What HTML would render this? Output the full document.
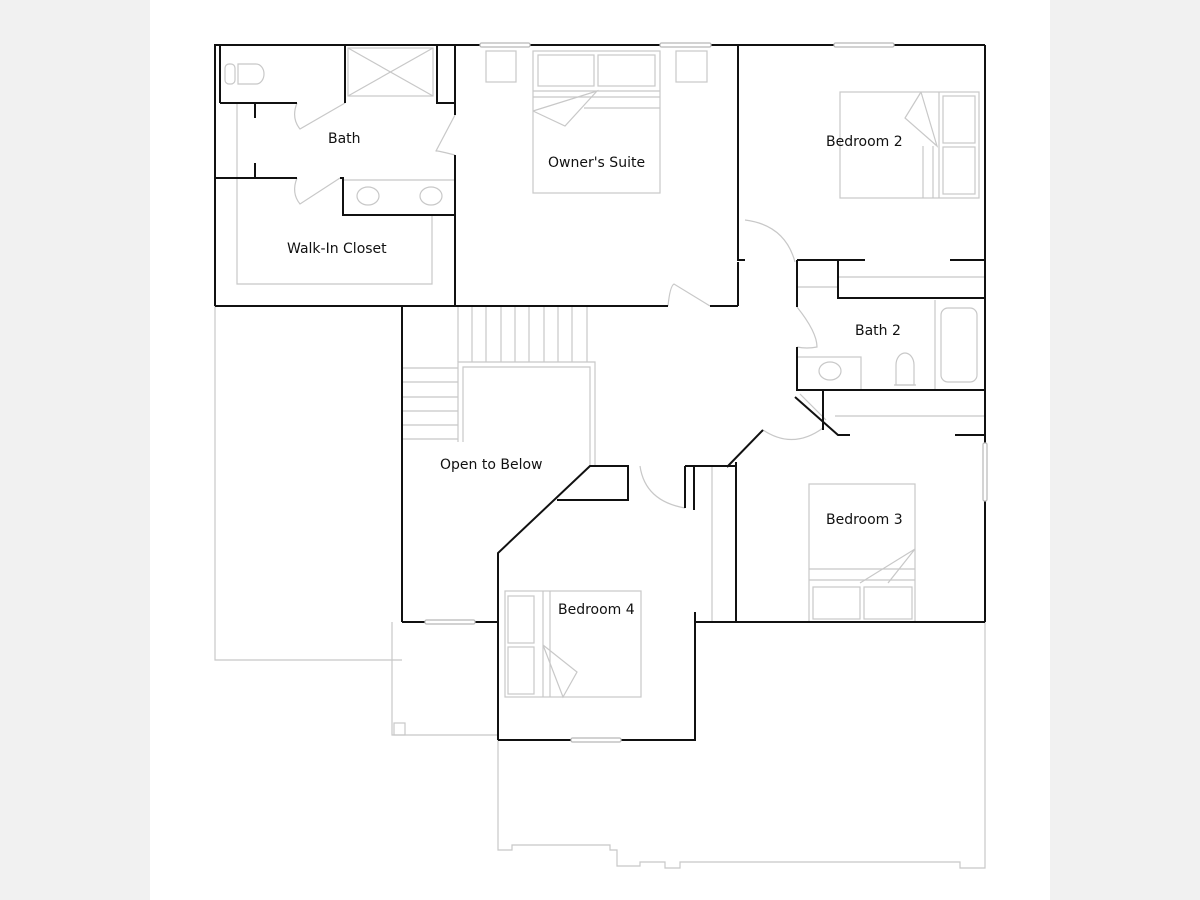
<!DOCTYPE html>
<html><head><meta charset="utf-8"><style>
html,body{margin:0;padding:0;background:#f1f1f1;}
svg{display:block;}
text{font-family:"DejaVu Sans","Liberation Sans",sans-serif;font-size:14px;fill:#111;}
</style></head><body>
<svg width="1200" height="900" viewBox="0 0 1200 900" xmlns="http://www.w3.org/2000/svg">
<rect x="0" y="0" width="1200" height="900" fill="#f1f1f1"/>
<rect x="150" y="0" width="900" height="900" fill="#fff"/>

<g fill="none" stroke="#c8c8c8" stroke-width="1.2">
  <polyline points="215,306 215,660 402,660"/>
  <polyline points="392,622 392,735 498,735"/>
  <rect x="394" y="723" width="11" height="12"/>
  <polyline points="498,740 498,850 512,850 512,845 610,845 610,850 617,850 617,866 640,866 640,862 665,862 665,868 680,868 680,862 960,862 960,868 985,868 985,622"/>
  <polyline points="237,103 237,284 432,284 432,215"/>
  <rect x="348" y="48" width="85" height="48"/>
  <line x1="348" y1="48" x2="433" y2="96"/><line x1="433" y1="48" x2="348" y2="96"/>
  <rect x="225" y="64" width="10" height="20" rx="4"/>
  <path d="M238 64 h18 a8 10 0 0 1 0 20 h-18 z"/>
  <line x1="343" y1="180" x2="455" y2="180"/>
  <ellipse cx="368" cy="196" rx="11" ry="9"/><ellipse cx="431" cy="196" rx="11" ry="9"/>
  <rect x="486" y="51" width="30" height="31"/><rect x="676" y="51" width="31" height="31"/>
  <rect x="533" y="51" width="127" height="142"/>
  <rect x="538" y="55" width="56" height="31"/><rect x="598" y="55" width="57" height="31"/>
  <line x1="533" y1="91" x2="660" y2="91"/><line x1="533" y1="97" x2="660" y2="97"/><line x1="584" y1="108" x2="660" y2="108"/>
  <polyline points="533,111 597,91 565,126 533,111"/>
  <rect x="840" y="92" width="139" height="106"/>
  <rect x="943" y="96" width="32" height="47"/><rect x="943" y="147" width="32" height="47"/>
  <line x1="923" y1="146" x2="923" y2="198"/><line x1="933" y1="146" x2="933" y2="198"/><line x1="939" y1="92" x2="939" y2="198"/>
  <polyline points="921,92 905,118 937,146 921,92"/>
  <line x1="838" y1="277" x2="985" y2="277"/>
  <line x1="797" y1="287" x2="838" y2="287"/>
  <line x1="935" y1="300" x2="935" y2="390"/>
  <rect x="941" y="308" width="36" height="74" rx="7"/>
  <rect x="797" y="357" width="64" height="33"/>
  <ellipse cx="830" cy="371" rx="11" ry="9"/>
  <path d="M896 385 v-20 a9 12 0 0 1 18 0 v20 z"/><line x1="894" y1="385" x2="916" y2="385"/>
  <line x1="835" y1="416" x2="985" y2="416"/>
  <rect x="809" y="484" width="106" height="138"/>
  <rect x="813" y="587" width="47" height="32"/><rect x="864" y="587" width="48" height="32"/>
  <line x1="809" y1="569" x2="915" y2="569"/><line x1="809" y1="580" x2="915" y2="580"/>
  <polyline points="860,583 915,549 888,583"/>
  <rect x="505" y="591" width="136" height="106"/>
  <rect x="508" y="596" width="26" height="47"/><rect x="508" y="647" width="26" height="47"/>
  <line x1="543" y1="591" x2="543" y2="697"/><line x1="550" y1="591" x2="550" y2="697"/>
  <polyline points="543,645 577,672 563,697 543,645"/>
  <line x1="712" y1="466" x2="712" y2="622"/>
  <line x1="800" y1="394" x2="826" y2="420"/>
  <g>
    <line x1="458" y1="306" x2="458" y2="362"/><line x1="472" y1="306" x2="472" y2="362"/><line x1="486" y1="306" x2="486" y2="362"/><line x1="501" y1="306" x2="501" y2="362"/><line x1="515" y1="306" x2="515" y2="362"/><line x1="529" y1="306" x2="529" y2="362"/><line x1="544" y1="306" x2="544" y2="362"/><line x1="558" y1="306" x2="558" y2="362"/><line x1="572" y1="306" x2="572" y2="362"/><line x1="587" y1="306" x2="587" y2="362"/>
    <line x1="402" y1="368" x2="458" y2="368"/><line x1="402" y1="382" x2="458" y2="382"/><line x1="402" y1="397" x2="458" y2="397"/><line x1="402" y1="411" x2="458" y2="411"/><line x1="402" y1="425" x2="458" y2="425"/><line x1="402" y1="439" x2="458" y2="439"/>
  </g>
  <polyline points="458,442 458,362 595,362 595,466"/>
  <polyline points="463,442 463,367 590,367 590,466"/>
  <path d="M297 103 q-6 15 3 26 L345 103" /><path d="M297 178 q-6 15 3 26 L340 178"/>
  <path d="M455 155 q-20 -5 -19 -4 L455 115"/>
  <path d="M668 306 q2 -20 6 -22 L710 306"/>
  <path d="M745 220 q40 5 50 42"/>
  <path d="M797 307 q20 25 20 40 q-10 2 -20 0"/>
  <path d="M763 430 q30 20 60 -2"/>
  <path d="M640 466 q5 35 45 42"/>
</g>

<g fill="none" stroke="#111" stroke-width="2">
  <line x1="214" y1="45" x2="985" y2="45"/>
  <line x1="215" y1="45" x2="215" y2="306"/>
  <line x1="220" y1="45" x2="220" y2="103"/>
  <polyline points="215,306 668,306"/><line x1="710" y1="306" x2="738" y2="306"/>
  <line x1="455" y1="45" x2="455" y2="115"/><line x1="455" y1="155" x2="455" y2="306"/>
  <polyline points="220,103 297,103"/><polyline points="345,103 345,45"/>
  <polyline points="437,45 437,103 455,103"/>
  <line x1="215" y1="178" x2="297" y2="178"/>
  <polyline points="340,178 343,178 343,215 455,215"/>
  <line x1="255" y1="103" x2="255" y2="118"/><line x1="255" y1="163" x2="255" y2="178"/>
  <polyline points="738,45 738,260 745,260"/><line x1="738" y1="262" x2="738" y2="306"/>
  <line x1="985" y1="45" x2="985" y2="622"/>
  <polyline points="797,260 865,260"/><line x1="950" y1="260" x2="985" y2="260"/>
  <polyline points="838,260 838,298 985,298"/>
  <polyline points="797,260 797,307"/><polyline points="797,347 797,390 985,390"/>
  <line x1="823" y1="390" x2="823" y2="430"/>
  <polyline points="795,397 838,435 850,435"/><line x1="955" y1="435" x2="985" y2="435"/>
  <polyline points="727,467 763,430"/>
  <line x1="402" y1="306" x2="402" y2="622"/>
  <line x1="402" y1="622" x2="498" y2="622"/>
  <polyline points="498,740 498,553 590,466 628,466 628,500 557,500"/>
  <line x1="685" y1="466" x2="685" y2="508"/><polyline points="685,466 735,466"/>
  <line x1="694" y1="466" x2="694" y2="510"/>
  <polyline points="498,740 695,740 695,612"/>
  <line x1="695" y1="622" x2="985" y2="622"/>
  <line x1="736" y1="462" x2="736" y2="622"/>
</g>

<g fill="#fff" stroke="#b8b8b8" stroke-width="1.2">
  <rect x="480" y="43" width="50" height="4" rx="1.5"/><rect x="660" y="43" width="51" height="4" rx="1.5"/><rect x="834" y="43" width="60" height="4" rx="1.5"/>
  <rect x="425" y="620" width="50" height="4" rx="1.5"/><rect x="571" y="738" width="50" height="4" rx="1.5"/><rect x="983" y="443" width="4" height="58" rx="1.5"/>
</g>

<text x="328" y="143">Bath</text>
<text x="287" y="253">Walk-In Closet</text>
<text x="548" y="167">Owner's Suite</text>
<text x="826" y="146">Bedroom 2</text>
<text x="855" y="335">Bath 2</text>
<text x="440" y="469">Open to Below</text>
<text x="826" y="524">Bedroom 3</text>
<text x="558" y="614">Bedroom 4</text>
</svg>
</body></html>
